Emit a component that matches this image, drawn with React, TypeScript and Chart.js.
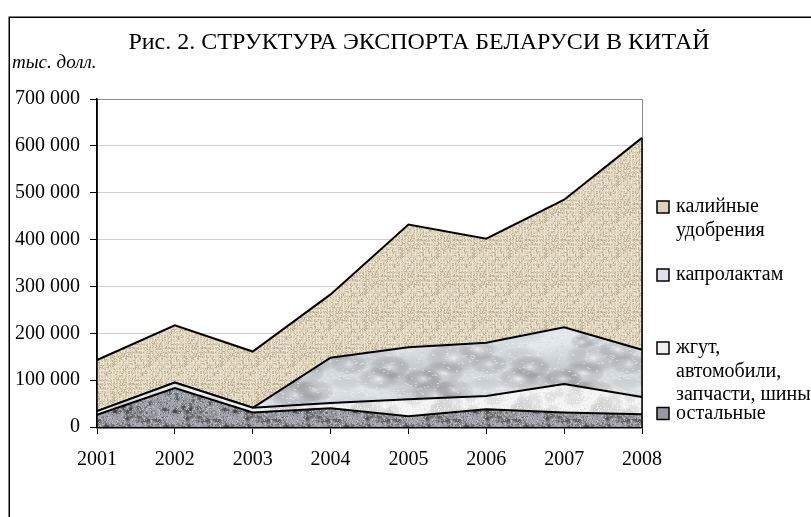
import { useEffect, useRef } from "react";
import { Chart, registerables } from "chart.js";

Chart.register(...registerables);

// ---- data (thousand USD) ----
const years = ["2001", "2002", "2003", "2004", "2005", "2006", "2007", "2008"];
const ostalnye = [26000, 83000, 31000, 40000, 23000, 38000, 31000, 27000];
const zhgut = [8000, 12000, 10000, 11000, 36000, 28000, 61000, 37000];
const kaprolaktam = [0, 0, 0, 97000, 111000, 114000, 121000, 101000];
const kaliynye = [109000, 122000, 120000, 135000, 262000, 222000, 272000, 452000];

const seriesNames = ["остальные", "жгут, автомобили, запчасти, шины", "капролактам", "калийные удобрения"];
const legendLines = [["калийные", "удобрения"], ["капролактам"], ["жгут,", "автомобили,", "запчасти, шины"], ["остальные"]];
const titleText = "Рис. 2. СТРУКТУРА ЭКСПОРТА БЕЛАРУСИ В КИТАЙ";
const unitText = "тыс. долл.";
const yTicks = [0, 100000, 200000, 300000, 400000, 500000, 600000, 700000];

const SERIF = '"Liberation Serif", "Times New Roman", serif';

function rng(seed: number) {
  let a = seed >>> 0;
  return () => {
    a = (a + 0x6d2b79f5) >>> 0;
    let t = a;
    t = Math.imul(t ^ (t >>> 15), t | 1);
    t ^= t + Math.imul(t ^ (t >>> 7), t | 61);
    return ((t ^ (t >>> 14)) >>> 0) / 4294967296;
  };
}

function tile(n: number) {
  const c = document.createElement("canvas");
  c.width = n;
  c.height = n;
  return c;
}

function blobs(ctx: CanvasRenderingContext2D, n: number, r: () => number, count: number, rMin: number, rMax: number, color: string, sx = 1, sy = 1) {
  for (let i = 0; i < count; i++) {
    const x = r() * n, y = r() * n, rad = rMin + r() * (rMax - rMin);
    for (const dx of [-n, 0, n]) for (const dy of [-n, 0, n]) {
      ctx.save();
      ctx.translate(x + dx, y + dy);
      ctx.scale(sx, sy);
      const g = ctx.createRadialGradient(0, 0, 0, 0, 0, rad);
      g.addColorStop(0, color);
      g.addColorStop(1, "rgba(0,0,0,0)");
      ctx.fillStyle = g;
      ctx.beginPath();
      ctx.arc(0, 0, rad, 0, Math.PI * 2);
      ctx.fill();
      ctx.restore();
    }
  }
}

function burlap() {
  const n = 36, c = tile(n), ctx = c.getContext("2d")!, r = rng(11);
  ctx.fillStyle = "rgb(218,206,180)";
  ctx.fillRect(0, 0, n, n);
  for (let y = 0; y < n; y++) for (let x = 0; x < n; x++) {
    const v = r();
    const onLine = x % 3 === 1 || y % 4 === 2;
    if (onLine && v < 0.7) { ctx.fillStyle = "rgba(238,231,214,0.85)"; ctx.fillRect(x, y, 1, 1); }
    else if (v > 0.8) { ctx.fillStyle = "rgba(178,164,136,0.75)"; ctx.fillRect(x, y, 1, 1); }
  }
  return c;
}

function marble() {
  const n = 140, c = tile(n), ctx = c.getContext("2d")!, r = rng(23);
  ctx.fillStyle = "rgb(226,231,236)";
  ctx.fillRect(0, 0, n, n);
  blobs(ctx, n, r, 26, 10, 26, "rgba(165,171,181,0.17)", 1.6, 0.7);
  blobs(ctx, n, r, 22, 8, 20, "rgba(250,251,253,0.5)", 1.4, 0.8);
  for (let i = 0; i < n * n * 0.05; i++) {
    ctx.fillStyle = r() > 0.5 ? "rgba(195,200,208,0.3)" : "rgba(255,255,255,0.4)";
    ctx.fillRect(Math.floor(r() * n), Math.floor(r() * n), 2, 1);
  }
  return c;
}

function paper() {
  const n = 80, c = tile(n), ctx = c.getContext("2d")!, r = rng(37);
  ctx.fillStyle = "rgb(243,243,243)";
  ctx.fillRect(0, 0, n, n);
  blobs(ctx, n, r, 20, 5, 14, "rgba(205,207,210,0.25)");
  for (let i = 0; i < n * n * 0.12; i++) {
    ctx.fillStyle = r() > 0.5 ? "rgba(208,208,211,0.6)" : "rgba(255,255,255,0.9)";
    ctx.fillRect(Math.floor(r() * n), Math.floor(r() * n), 1, 1);
  }
  return c;
}

function granite() {
  const n = 60, c = tile(n), ctx = c.getContext("2d")!, r = rng(53);
  ctx.fillStyle = "rgb(160,164,170)";
  ctx.fillRect(0, 0, n, n);
  blobs(ctx, n, r, 80, 1.5, 3.5, "rgba(60,64,70,0.7)");
  blobs(ctx, n, r, 60, 1.5, 3.5, "rgba(225,228,232,0.75)");
  for (let i = 0; i < n * n * 0.25; i++) {
    ctx.fillStyle = r() > 0.5 ? "rgba(85,88,94,0.6)" : "rgba(210,213,218,0.6)";
    ctx.fillRect(Math.floor(r() * n), Math.floor(r() * n), 1, 1);
  }
  return c;
}

function fmt(v: number) {
  return String(v).replace(/\B(?=(\d{3})+(?!\d))/g, " ");
}

export default function App() {
  const ref = useRef<HTMLCanvasElement>(null);
  useEffect(() => {
    const canvas = ref.current!;
    const ctx0 = canvas.getContext("2d")!;
    const pats = [granite(), paper(), marble(), burlap()].map((t) => ctx0.createPattern(t, "repeat")!);
    const legendBoxColors = ["rgb(150,154,160)", "rgb(240,240,240)", "rgb(220,226,233)", "rgb(222,210,186)"];

    const deco = {
      id: "deco",
      beforeDatasetsDraw(chart: any) {
        const { ctx, chartArea: a } = chart;
        ctx.save();
        ctx.strokeStyle = "#8c8c8c";
        ctx.lineWidth = 1;
        ctx.beginPath();
        ctx.moveTo(a.left, a.top + 0.5);
        ctx.lineTo(a.right + 0.5, a.top + 0.5);
        ctx.lineTo(a.right + 0.5, a.bottom);
        ctx.stroke();
        ctx.restore();
      },
      afterDatasetsDraw(chart: any) {
        const { ctx, chartArea: a } = chart;
        const last = chart.getDatasetMeta(chart.data.datasets.length - 1).data;
        const p = last[last.length - 1];
        ctx.save();
        ctx.strokeStyle = "#000";
        ctx.lineWidth = 1.5;
        ctx.beginPath();
        ctx.moveTo(a.right, p.y);
        ctx.lineTo(a.right, a.bottom);
        ctx.stroke();
        ctx.beginPath();
        ctx.moveTo(a.left, a.top);
        ctx.lineTo(a.left, a.bottom);
        ctx.stroke();
        ctx.restore();
      },
      afterDraw(chart: any) {
        const { ctx } = chart;
        ctx.save();
        // outer frame
        ctx.strokeStyle = "#000";
        ctx.lineWidth = 1.5;
        ctx.strokeRect(9.25, 17.25, 1200, 1200);
        ctx.fillStyle = "#000";
        ctx.textBaseline = "alphabetic";
        ctx.textAlign = "center";
        ctx.font = `24px ${SERIF}`;
        ctx.fillText(titleText, 419, 49);
        ctx.textAlign = "left";
        ctx.font = `italic 19px ${SERIF}`;
        ctx.fillText(unitText, 12, 68);
        // legend (top series first)
        const centers = [207, 275, 348, 413.5];
        ctx.font = `20px ${SERIF}`;
        ctx.textBaseline = "middle";
        legendLines.forEach((lines, i) => {
          const ds = 3 - i;
          const cy = centers[i];
          ctx.fillStyle = legendBoxColors[ds];
          ctx.fillRect(657, cy - 6, 12, 12);
          ctx.strokeStyle = "#000";
          ctx.lineWidth = 1.5;
          ctx.strokeRect(657, cy - 6, 12, 12);
          ctx.fillStyle = "#000";
          lines.forEach((t, j) => ctx.fillText(t, 676, cy + j * 23.5));
        });
        ctx.restore();
      },
    };

    const series = [ostalnye, zhgut, kaprolaktam, kaliynye];
    const chart = new Chart(canvas, {
      type: "line",
      data: {
        labels: years,
        datasets: series.map((d, i) => ({
          label: seriesNames[i],
          data: d,
          backgroundColor: pats[i],
          borderColor: "#000",
          borderWidth: 2,
          fill: i === 0 ? "origin" : "-1",
          pointRadius: 0,
          tension: 0,
        })),
      },
      options: {
        animation: false,
        responsive: false,
        devicePixelRatio: 1,
        layout: { padding: { left: 0, right: 169, top: 99, bottom: 0 } },
        plugins: { legend: { display: false }, tooltip: { enabled: false }, title: { display: false } },
        scales: {
          x: {
            type: "category",
            offset: false,
            z: 1,
            grid: { drawOnChartArea: false, drawTicks: true, tickLength: 7, tickColor: "#000", tickWidth: 1 },
            border: { color: "#000", width: 2.5 },
            ticks: { color: "#000", font: { family: SERIF, size: 20 }, padding: 14, maxRotation: 0, autoSkip: false },
            afterFit: (s: any) => { s.height = 90; },
          },
          y: {
            stacked: true,
            min: 0,
            max: 700000,
            afterBuildTicks: (s: any) => { s.ticks = yTicks.map((v) => ({ value: v })); },
            grid: { color: "#cfcfcf", lineWidth: 1, tickColor: "#000", tickLength: 7 },
            border: { color: "#000", width: 1.5 },
            ticks: { color: "#000", font: { family: SERIF, size: 20 }, padding: 10, callback: (v: any) => fmt(Number(v)) },
            afterFit: (s: any) => { s.width = 97; },
          },
        },
      },
      plugins: [deco],
    } as any);
    return () => chart.destroy();
  }, []);
  return (
    <div style={{ position: "fixed", left: 0, top: 0, width: 811, height: 517, background: "#fff" }}>
      <canvas ref={ref} width={811} height={517} style={{ display: "block", width: 811, height: 517 }} />
    </div>
  );
}
